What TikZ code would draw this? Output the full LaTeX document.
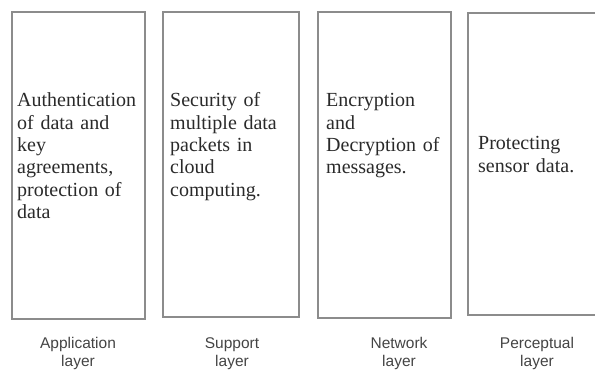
\documentclass[tikz,border=0pt]{standalone}
\usepackage{fontspec}
\setmainfont{Liberation Serif}
\newfontfamily\labelfont{Liberation Sans}
\begin{document}
\begin{tikzpicture}[x=1pt,y=-1pt,
  layerbox/.style={draw=boxgray, line width=1.4pt, inner sep=0pt},
  boxtext/.style={anchor=base west, inner sep=0pt, text width=135pt, align=left,
    text=textdark, font=\fontsize{20}{22.3}\selectfont},
  layerlabel/.style={anchor=base, inner sep=0pt, text width=100pt, align=center, text=labelgray,
    font=\labelfont\fontsize{15.5}{18}\selectfont}]
\definecolor{boxgray}{HTML}{8C8C8C}
\definecolor{textdark}{HTML}{2A2A2A}
\definecolor{labelgray}{HTML}{444444}
\useasboundingbox (0,0) rectangle (595,371);
% boxes
\node[layerbox, minimum width=133pt, minimum height=307pt] (b1) at (78.5,165.5) {};
\node[layerbox, minimum width=136pt, minimum height=305pt] (b2) at (231,164.5) {};
\node[layerbox, minimum width=133pt, minimum height=306pt] (b3) at (384.5,165) {};
\node[layerbox, minimum width=134pt, minimum height=302pt] (b4) at (535,164) {};
% texts
\node[boxtext] (t1) at (17,107) {Authentication\\of data and\\key\\agreements,\\protection of\\data};
\node[boxtext] (t2) at (170,107) {Security of\\multiple data\\packets in\\cloud\\computing.};
\node[boxtext] (t3) at (326,107) {Encryption\\and\\Decryption of\\messages.};
\node[boxtext] (t4) at (478,150) {Protecting\\sensor data.};
% labels
\node[layerlabel] (l1) at (78,349) {Application\\layer};
\node[layerlabel] (l2) at (232,349) {Support\\layer};
\node[layerlabel] (l3) at (399,349) {Network\\layer};
\node[layerlabel] (l4) at (537,349) {Perceptual\\layer};
\end{tikzpicture}
\end{document}
